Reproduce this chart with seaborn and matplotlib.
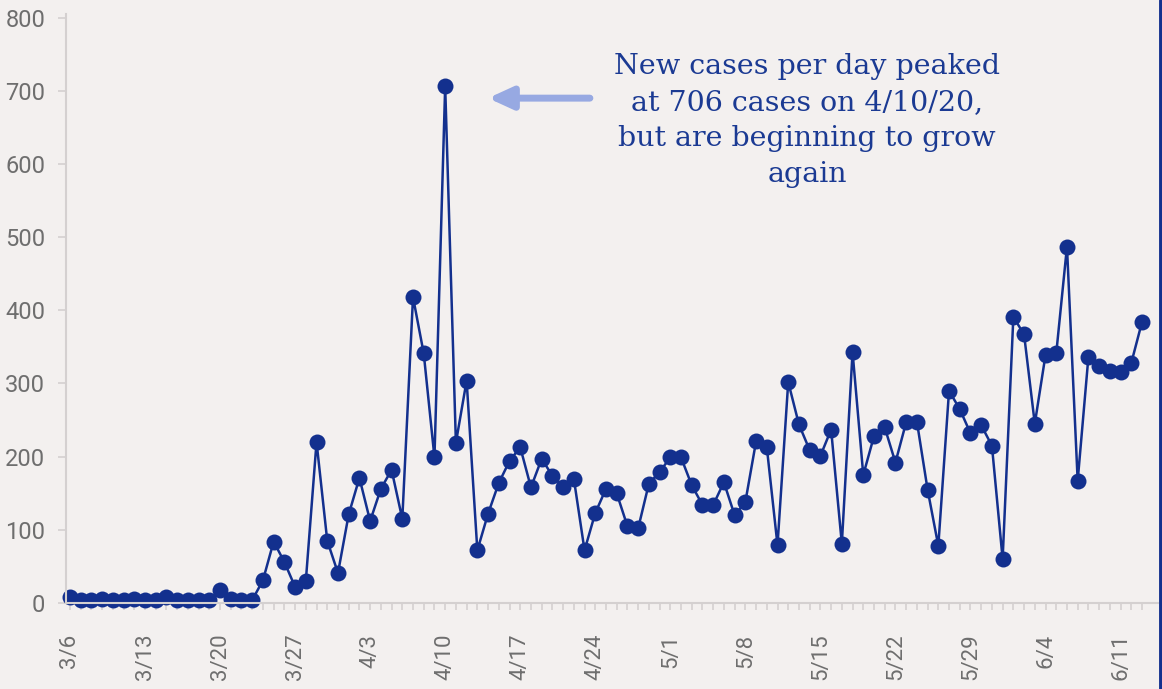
import numpy as np
import pandas as pd
import matplotlib
matplotlib.use("Agg")
import matplotlib.pyplot as plt
import seaborn as sns

# ---- data ----
start_date = "2020-03-06"
new_cases = [8, 4, 4, 5, 4, 4, 6, 4, 4, 8,
             4, 4, 4, 4, 18, 5, 4, 4, 31, 84,
             56, 22, 30, 220, 85, 41, 121, 171, 112, 156,
             182, 115, 418, 341, 199, 706, 219, 304, 72, 122,
             164, 194, 213, 158, 197, 174, 159, 170, 72, 123,
             156, 150, 105, 102, 163, 179, 199, 199, 161, 134,
             134, 165, 120, 138, 221, 213, 79, 302, 244, 209,
             201, 237, 81, 343, 175, 228, 240, 192, 247, 248,
             155, 78, 290, 265, 232, 243, 215, 60, 391, 367,
             245, 339, 341, 487, 167, 336, 324, 317, 316, 328,
             384]
tick_labels = ["3/6", "3/13", "3/20", "3/27", "4/3", "4/10", "4/17", "4/24",
               "5/1", "5/8", "5/15", "5/22", "5/29", "6/4", "6/11"]
y_ticks = [0, 100, 200, 300, 400, 500, 600, 700, 800]
note = "New cases per day peaked\nat 706 cases on 4/10/20,\nbut are beginning to grow\nagain"

dates = pd.date_range(start_date, periods=len(new_cases), freq="D")
df = pd.DataFrame({"day": np.arange(len(new_cases)), "date": dates, "cases": new_cases})

bg = "#F3F0EF"
navy = "#13308E"
grey_txt = "#6E6E6E"
axis_grey = "#D4D0D0"

sns.set_theme(style="white")
plt.rcParams["font.family"] = ["Roboto", "DejaVu Sans"]

fig = plt.figure(figsize=(11.62, 6.89), dpi=100, facecolor=bg)
ax = fig.add_axes([66 / 1162, 1 - 603 / 689, (1158 - 66) / 1162, (603 - 14) / 689])
ax.set_facecolor(bg)

sns.lineplot(data=df, x="day", y="cases", ax=ax, color=navy, linewidth=1.8,
             marker="o", markersize=11.5, markeredgewidth=0, clip_on=False)

n = len(new_cases)
ax.set_xlim(-0.37, (1158 - 70) / 10.72)
ax.set_ylim(0, 805)

ax.set_xticks(np.arange(0, n, 7))
ax.set_xticklabels(tick_labels, rotation=90, color=grey_txt, fontsize=16,
                   family=["Roboto", "DejaVu Sans"])
ax.set_xticks(np.arange(0, n), minor=True)
ax.set_yticks(y_ticks)
ax.set_yticklabels([str(v) for v in y_ticks], color=grey_txt, fontsize=17)

ax.tick_params(axis="x", which="both", direction="out", length=5, width=1.2,
               color=axis_grey, pad=17, bottom=True)
ax.tick_params(axis="y", which="both", direction="out", length=6, width=1.2,
               color=axis_grey, pad=9, left=True)

for s in ["top", "right"]:
    ax.spines[s].set_visible(False)
for s in ["left", "bottom"]:
    ax.spines[s].set_color(axis_grey)
    ax.spines[s].set_linewidth(1.5)

ax.set_xlabel("")
ax.set_ylabel("")
ax.grid(False)

# annotation
peak_day = int(np.argmax(new_cases))
ax.annotate("", xy=(peak_day + 4.0, 690), xytext=(peak_day + 13.5, 690),
            arrowprops=dict(arrowstyle="-|>,head_length=1.2,head_width=0.55",
                            color="#97A9E2", lw=5, shrinkA=0, shrinkB=0))
ax.text(68.75, 659, note, ha="center", va="center", color="#1B3A93",
        fontsize=20.5, family=["DejaVu Serif"], linespacing=1.43)

# right border bar
fig.add_artist(plt.Line2D([1160.5 / 1162, 1160.5 / 1162], [0, 1],
                          transform=fig.transFigure, color=navy, lw=3.5))

fig.savefig("out.png", dpi=100, facecolor=bg)
